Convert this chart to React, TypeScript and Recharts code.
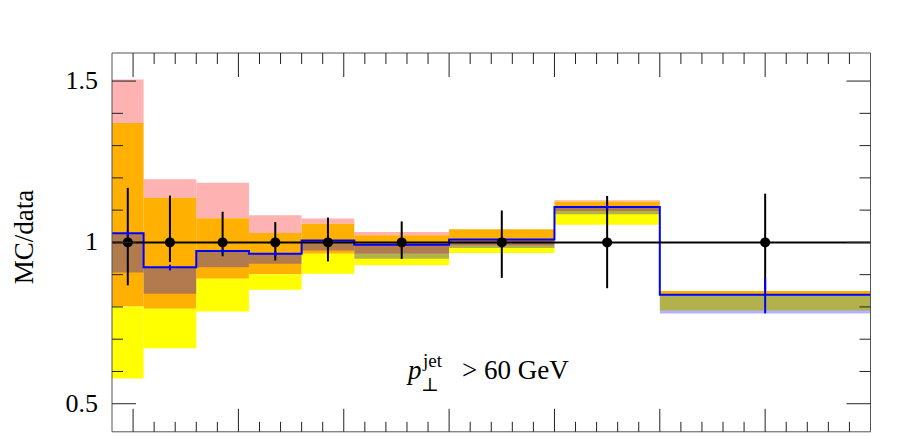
import React from "react";
import {
  ComposedChart,
  XAxis,
  YAxis,
  ReferenceArea,
  ReferenceLine,
  Line,
  Scatter,
  ErrorBar,
} from "recharts";

const W = 899;
const H = 436;
const SERIF = "'Liberation Serif', 'DejaVu Serif', serif";

// bin layout (axis units, minor tick = 1)
const BIN_EDGES = [-1, 0.5, 3, 5.5, 8, 10.5, 15, 20, 25, 35];
const BIN_CENTRES = [-0.25, 1.75, 4.25, 6.75, 9.25, 12.75, 17.5, 22.5, 30];

// envelope bands per bin, [low, high]
const PINK_BAND: (number[] | null)[] = [
  [1.37, 1.505], [1.138, 1.196], [1.075, 1.185], [1.029, 1.084], [1.058, 1.074],
  [1.022, 1.032], null, [1.127, 1.131], null,
];
const ORANGE_BAND = [
  [0.801, 1.37], [0.794, 1.138], [0.887, 1.075], [0.901, 1.029], [0.965, 1.058],
  [0.965, 1.022], [0.99, 1.041], [1.097, 1.127], [0.836, 0.849],
];
const YELLOW_BAND = [
  [0.578, 0.801], [0.672, 0.794], [0.786, 0.887], [0.853, 0.901], [0.903, 0.965],
  [0.929, 0.965], [0.967, 0.99], [1.055, 1.097], [0.789, 0.836],
];
const MC_BAND = [
  [0.907, 1.028], [0.841, 0.923], [0.923, 0.973], [0.934, 0.965], [0.975, 1.006],
  [0.949, 0.993], [0.983, 1.009], [1.087, 1.11], [0.78, 0.838],
];

const MC_RATIO = [1.028, 0.923, 0.973, 0.965, 1.006, 0.993, 1.009, 1.11, 0.838];
const MC_ERR = [
  [1.02, 1.036], [0.913, 0.931], [0.966, 0.98], [0.958, 0.972], [0.999, 1.013],
  [0.987, 0.999], [1.003, 1.015], [1.102, 1.118], [0.78, 0.888],
];
const DATA_ERR = [
  [0.867, 1.169], [0.939, 1.145], [0.957, 1.095], [0.944, 1.063], [0.941, 1.077],
  [0.949, 1.065], [0.89, 1.099], [0.858, 1.144], [0.849, 1.151],
];

const X_TICKS = Array.from({ length: 35 }, (_, i) => i);
const Y_TICKS = [0.5, 0.6, 0.7, 0.8, 0.9, 1, 1.1, 1.2, 1.3, 1.4, 1.5];
const Y_LABELS: Record<string, string> = { "0.5": "0.5", "1": "1", "1.5": "1.5" };

const mcLine = BIN_EDGES.map((x, i) => ({
  x,
  mc: MC_RATIO[Math.min(i, MC_RATIO.length - 1)],
}));
const dataPoints = BIN_CENTRES.map((x, i) => ({
  x,
  y: 1,
  err: [1 - DATA_ERR[i][0], DATA_ERR[i][1] - 1],
}));
const mcPoints = BIN_CENTRES.map((x, i) => ({
  x,
  y: MC_RATIO[i],
  err: [MC_RATIO[i] - MC_ERR[i][0], MC_ERR[i][1] - MC_RATIO[i]],
}));

const isMajorX = (v: number) => v % 5 === 0;
const isMajorY = (v: number) => Y_LABELS[String(v)] !== undefined;

function BottomTick({ x, y, payload }: any) {
  const len = isMajorX(payload.value) ? 23 : 10;
  return <line x1={x} x2={x} y1={y} y2={y - len} stroke="#222" />;
}
function TopTick({ x, y, payload }: any) {
  const len = isMajorX(payload.value) ? 24 : 11;
  return <line x1={x} x2={x} y1={y} y2={y + len} stroke="#222" />;
}
function LeftTick({ x, y, payload }: any) {
  const major = isMajorY(payload.value);
  return (
    <g>
      <line x1={x} x2={x + (major ? 24 : 11)} y1={y} y2={y} stroke="#222" />
      {major && (
        <text x={x - 14} y={y + 8} textAnchor="end" fontSize={26} fontFamily={SERIF} fill="#000">
          {Y_LABELS[String(payload.value)]}
        </text>
      )}
    </g>
  );
}
function RightTick({ x, y, payload }: any) {
  const len = isMajorY(payload.value) ? 24 : 11;
  return <line x1={x} x2={x - len} y1={y} y2={y} stroke="#222" />;
}

export default function App() {
  return (
    <div style={{ position: "fixed", left: 0, top: 0, width: W, height: H, background: "#fff" }}>
      <ComposedChart
        width={W}
        height={H}
        margin={{ top: 52, right: 27.5, bottom: 3.2, left: 111 }}
      >
        <XAxis
          dataKey="x"
          type="number"
          domain={[-1, 35]}
          allowDataOverflow
          ticks={X_TICKS}
          interval={0}
          height={1}
          tickSize={0}
          tickMargin={0}
          tickLine={false}
          tick={<BottomTick />}
          axisLine={{ stroke: "#555" }}
        />
        <XAxis
          xAxisId="top"
          orientation="top"
          dataKey="x"
          type="number"
          domain={[-1, 35]}
          allowDataOverflow
          ticks={X_TICKS}
          interval={0}
          height={1}
          tickSize={0}
          tickMargin={0}
          tickLine={false}
          tick={<TopTick />}
          axisLine={{ stroke: "#555" }}
        />
        <YAxis
          type="number"
          domain={[0.413, 1.587]}
          allowDataOverflow
          ticks={Y_TICKS}
          interval={0}
          width={1}
          tickSize={0}
          tickMargin={0}
          tickLine={false}
          tick={<LeftTick />}
          axisLine={{ stroke: "#555" }}
        />
        <YAxis
          yAxisId="right"
          orientation="right"
          type="number"
          domain={[0.413, 1.587]}
          allowDataOverflow
          ticks={Y_TICKS}
          interval={0}
          width={1}
          tickSize={0}
          tickMargin={0}
          tickLine={false}
          tick={<RightTick />}
          axisLine={{ stroke: "#555" }}
        />

        {PINK_BAND.map((b, i) =>
          b ? (
            <ReferenceArea key={`p${i}`} x1={BIN_EDGES[i]} x2={BIN_EDGES[i + 1]} y1={b[0]} y2={b[1]}
              fill="#ffb2b2" fillOpacity={1} stroke="none" />
          ) : null
        )}
        {ORANGE_BAND.map((b, i) => (
          <ReferenceArea key={`o${i}`} x1={BIN_EDGES[i]} x2={BIN_EDGES[i + 1]} y1={b[0]} y2={b[1]}
            fill="#ffb000" fillOpacity={1} stroke="none" />
        ))}
        {YELLOW_BAND.map((b, i) => (
          <ReferenceArea key={`y${i}`} x1={BIN_EDGES[i]} x2={BIN_EDGES[i + 1]} y1={b[0]} y2={b[1]}
            fill="#ffff00" fillOpacity={1} stroke="none" />
        ))}
        {MC_BAND.map((b, i) => (
          <ReferenceArea key={`m${i}`} x1={BIN_EDGES[i]} x2={BIN_EDGES[i + 1]} y1={b[0]} y2={b[1]}
            fill="#0000ff" fillOpacity={0.3} stroke="none" />
        ))}

        <Line
          data={mcLine}
          dataKey="mc"
          type="stepAfter"
          stroke="#0000ff"
          strokeWidth={2}
          dot={false}
          activeDot={false}
          isAnimationActive={false}
        />
        <ReferenceLine y={1} stroke="#000" strokeWidth={2} />

        <Scatter
          data={dataPoints}
          dataKey="y"
          isAnimationActive={false}
          shape={(p: any) => <circle cx={p.cx} cy={p.cy} r={5} fill="#000" />}
        >
          <ErrorBar dataKey="err" direction="y" width={0} stroke="#000" strokeWidth={2} />
        </Scatter>
        <Scatter
          data={mcPoints}
          dataKey="y"
          isAnimationActive={false}
          shape={() => <g />}
        >
          <ErrorBar dataKey="err" direction="y" width={0} stroke="#0000ff" strokeWidth={2} />
        </Scatter>
      </ComposedChart>

      <svg width={W} height={H} style={{ position: "absolute", left: 0, top: 0, pointerEvents: "none" }}>
        <text x={33} y={237} transform="rotate(-90 33 237)" textAnchor="middle" fontSize={27} fontFamily={SERIF} fill="#000">
          MC/data
        </text>
        <text x={408} y={379} fontSize={27} fontFamily={SERIF} fontStyle="italic" fill="#000">p</text>
        <text x={423} y={367} fontSize={19} fontFamily={SERIF} fill="#000">jet</text>
        <text x={421} y={391} fontSize={19} fontFamily={SERIF} fill="#000">⊥</text>
        <text x={462} y={379} fontSize={27} fontFamily={SERIF} fill="#000">&gt; 60 GeV</text>
      </svg>
    </div>
  );
}
